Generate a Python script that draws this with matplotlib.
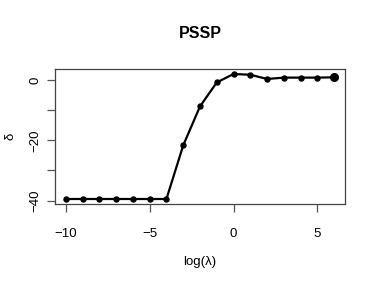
import matplotlib
matplotlib.use("Agg")
import matplotlib.pyplot as plt

x = [-10, -9, -8, -7, -6, -5, -4, -3, -2, -1, 0, 1, 2, 3, 4, 5, 6]
delta = [-39.5, -39.5, -39.5, -39.5, -39.5, -39.5, -39.5, -21.7, -8.75, -0.8,
         2.0, 1.75, 0.35, 0.8, 0.8, 0.8, 0.9]
xticks = [-10, -5, 0, 5]
yticks = [0, -10, -20, -30, -40]
ylabels = ["0", "", "\u221220", "", "\u221240"]
xlabels = ["\u221210", "\u22125", "0", "5"]

plt.rcParams['font.family'] = ['Liberation Sans', 'DejaVu Sans']
fig = plt.figure(figsize=(3.74, 2.91), dpi=100)
ax = fig.add_axes([55/374, 1-204/291, 290/374, 135/291])
ax.plot(x, delta, color='black', lw=1.6, marker='o', ms=3.6)
ax.plot(x[-1:], delta[-1:], color='black', marker='o', ms=5.5, lw=0)

xr = max(x) - min(x)
ax.set_xlim(min(x) - 0.04*xr, max(x) + 0.04*xr)
yr = max(delta) - min(delta)
ax.set_ylim(min(delta) - 0.04*yr, max(delta) + 0.04*yr)
ax.set_xticks(xticks)
ax.set_xticklabels(xlabels)
ax.set_yticks(yticks)
ax.set_yticklabels(ylabels, rotation=90, va='center')
ax.tick_params(axis='both', length=6, width=0.9, color='#555555', labelsize=9.5)
ax.tick_params(axis='x', pad=11)
ax.tick_params(axis='y', pad=4)
for s in ax.spines.values():
    s.set_color('#444444')
    s.set_linewidth(0.9)
ax.set_title("PSSP", fontweight='bold', fontsize=11.5, pad=22)
ax.set_xlabel("log(\u03bb)", fontsize=9.5, labelpad=12)
ax.set_ylabel("\u03b4", fontsize=9.5, labelpad=9)
fig.savefig("out.png", dpi=100)
